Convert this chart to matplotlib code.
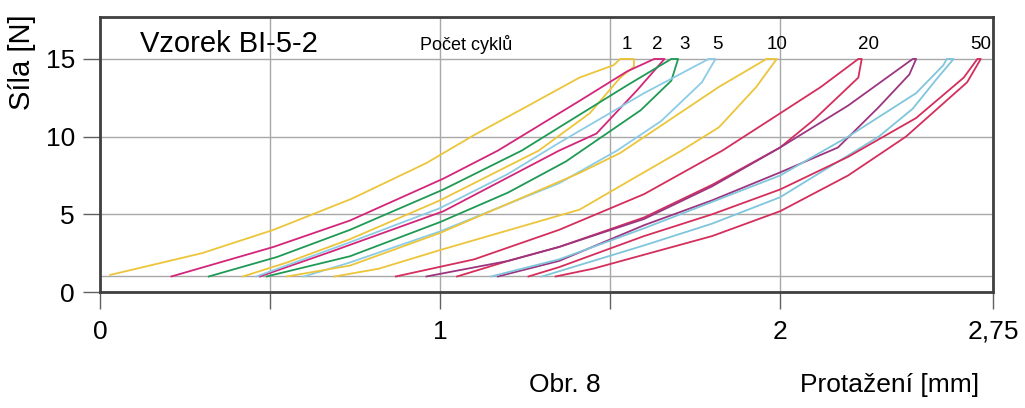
import numpy as np
import matplotlib
matplotlib.use("Agg")
import matplotlib.pyplot as plt

plt.rcParams["font.family"] = ["Liberation Sans", "DejaVu Sans"]

# hysteresis loops: loading branch (upper) + unloading branch (lower), x in mm, F in N
cycles = ["1", "2", "3", "5", "10", "20", "", "", "50"]
colors = ["#ecc53a", "#d3257a", "#1f9a55", "#8ccbe6", "#ecc53a",
          "#d42e5c", "#9c3580", "#7fc6dc", "#d42e5c"]

load_x = [
    [0.03, 0.30, 0.51, 0.74, 0.96, 1.10, 1.26, 1.41, 1.51, 1.53],
    [0.21, 0.51, 0.735, 1.01, 1.17, 1.35, 1.41, 1.55, 1.63],
    [0.32, 0.52, 0.735, 1.01, 1.24, 1.38, 1.55, 1.68],
    [0.46, 0.735, 1.0, 1.2, 1.35, 1.6, 1.79],
    [0.55, 0.735, 1.0, 1.41, 1.53, 1.82, 1.96],
    [0.87, 1.1, 1.35, 1.6, 1.83, 2.0, 2.12, 2.23],
    [0.96, 1.2, 1.35, 1.6, 1.8, 2.0, 2.2, 2.39],
    [1.15, 1.35, 1.6, 1.8, 2.0, 2.2, 2.4, 2.48, 2.49],
    [1.26, 1.35, 1.6, 1.8, 2.0, 2.2, 2.4, 2.54, 2.58],
]
load_f = [
    [1.1, 2.5, 4.0, 6.0, 8.3, 10.1, 12.0, 13.8, 14.6, 15.0],
    [1.0, 2.9, 4.6, 7.3, 9.1, 11.5, 12.3, 14.2, 15.0],
    [1.0, 2.25, 4.0, 6.6, 9.1, 11.0, 13.3, 15.0],
    [1.0, 3.2, 5.4, 7.6, 9.6, 12.8, 15.0],
    [1.0, 1.7, 3.8, 7.66, 8.95, 13.2, 15.0],
    [1.0, 2.1, 4.0, 6.3, 9.1, 11.5, 13.2, 15.0],
    [1.0, 2.0, 2.9, 4.7, 6.8, 9.3, 12.0, 15.0],
    [1.0, 2.1, 4.1, 5.8, 7.5, 10.0, 12.8, 14.6, 15.0],
    [1.0, 1.6, 3.6, 5.0, 6.6, 8.7, 11.2, 13.8, 15.0],
]
unload_x = [
    [1.57, 1.57, 1.53, 1.44, 1.29, 1.0, 0.735, 0.55, 0.42],
    [1.66, 1.58, 1.46, 1.35, 1.01, 0.68, 0.47],
    [1.70, 1.68, 1.59, 1.37, 1.2, 1.0, 0.735, 0.49],
    [1.81, 1.77, 1.65, 1.52, 1.35, 1.0, 0.735, 0.60],
    [1.99, 1.93, 1.82, 1.71, 1.41, 1.0, 0.82, 0.69],
    [2.24, 2.23, 2.1, 2.0, 1.8, 1.6, 1.35, 1.2, 1.05],
    [2.40, 2.38, 2.29, 2.17, 2.0, 1.8, 1.6, 1.35, 1.17],
    [2.51, 2.46, 2.39, 2.29, 2.0, 1.8, 1.6, 1.42, 1.30],
    [2.59, 2.55, 2.37, 2.2, 2.0, 1.8, 1.6, 1.45, 1.34],
]
unload_f = [
    [15.0, 14.5, 13.8, 11.5, 9.1, 5.9, 3.4, 1.9, 1.0],
    [15.0, 13.0, 10.2, 9.1, 5.2, 2.6, 1.0],
    [15.0, 13.6, 11.7, 8.4, 6.4, 4.5, 2.3, 1.0],
    [15.0, 13.5, 11.0, 9.1, 7.0, 3.9, 1.9, 1.0],
    [15.0, 13.2, 10.6, 9.1, 5.3, 2.7, 1.5, 1.0],
    [15.0, 13.8, 11.1, 9.3, 6.9, 4.8, 2.9, 2.0, 1.0],
    [15.0, 14.0, 11.9, 9.3, 7.7, 5.9, 4.3, 2.0, 1.0],
    [15.0, 13.7, 11.8, 10.0, 6.1, 4.4, 3.0, 1.8, 1.0],
    [15.0, 13.5, 10.0, 7.5, 5.2, 3.6, 2.4, 1.5, 1.0],
]

# where the cycle numbers sit above the loops
label_x = [1.55, 1.64, 1.72, 1.815, 1.99, 2.26, 0, 0, 2.59]

x_ticks = [0, 0.5, 1, 1.5, 2, 2.626]
x_labels = ["0", "", "1", "", "2", "2,75"]
y_ticks = [0, 5, 10, 15]

fig = plt.figure(figsize=(10.25, 4.08), dpi=100)
ax = fig.add_axes([100/1025, 1 - 292/408, 893/1025, 275/408])

for lx, lf, ux, uf, c in zip(load_x, load_f, unload_x, unload_f, colors):
    ax.plot(lx + ux, lf + uf, color=c, lw=1.3, zorder=3)

for lab, xl in zip(cycles, label_x):
    if lab:
        ax.text(xl, 15.95, lab, ha="center", va="center", fontsize=13.5)

ax.text(0.118, 15.95, "Vzorek BI-5-2", ha="left", va="center", fontsize=21)
ax.text(0.94, 15.95, "Počet cyklů", ha="left", va="center", fontsize=13)

ax.set_xlim(0, 2.626)
ax.set_ylim(0, 17.7)
ax.set_xticks(x_ticks)
ax.set_xticklabels(x_labels)
ax.set_yticks(y_ticks)
ax.grid(True, color="#a8a8a8", lw=1.0)
ax.axhline(1, color="#a8a8a8", lw=1.0, zorder=1)
ax.tick_params(axis="both", labelsize=19, length=12, width=1.0, color="#606060", pad=6)
ax.tick_params(axis="x", pad=8)
for s in ax.spines.values():
    s.set_color("#404040")
    s.set_linewidth(2)

fig.text(22/1025, 1 - 62/408, "Síla [N]", rotation=90, ha="center", va="center", fontsize=21)
fig.text(565/1025, 1 - 385/408, "Obr. 8", ha="center", va="center", fontsize=19)
fig.text(890/1025, 1 - 385/408, "Protažení [mm]", ha="center", va="center", fontsize=19)

fig.savefig("out.png", dpi=100)
